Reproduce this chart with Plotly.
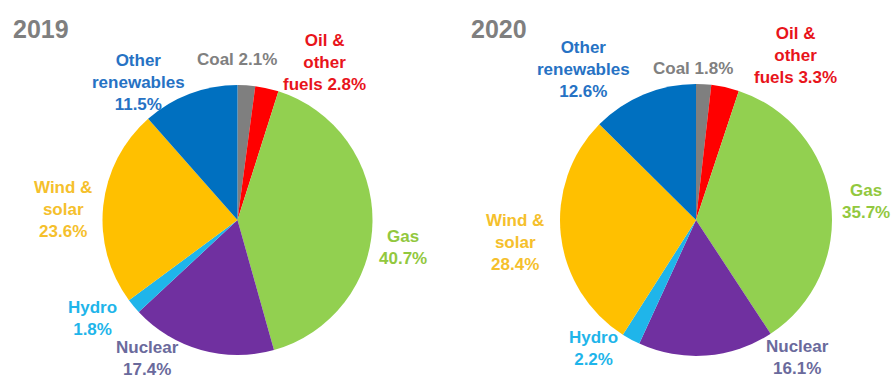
import plotly.graph_objects as go

# Electricity generation mix, share of total (%)
sources = ["Coal", "Oil & other fuels", "Gas", "Nuclear", "Hydro",
           "Wind & solar", "Other renewables"]
share_2019 = [2.1, 2.8, 40.7, 17.4, 1.8, 23.6, 11.5]
share_2020 = [1.8, 3.3, 35.7, 16.1, 2.2, 28.4, 12.6]

# How each source name is broken over lines in its label
label_stems = ["Coal ", "Oil &<br>other<br>fuels ", "Gas<br>", "Nuclear<br>",
               "Hydro<br>", "Wind &<br>solar<br>", "Other<br>renewables<br>"]

slice_colors = ["#7f7f7f", "#ff0000", "#92d050", "#7030a0", "#1fb5ea",
                "#ffc000", "#0070c0"]
label_colors = ["#808080", "#e8141b", "#92c83e", "#6a6a9c", "#1fb5ea",
                "#f5c02c", "#2672c4"]

FONT = "Arial, Liberation Sans, sans-serif"
W, H = 894, 380

# Label anchor points (pixels from the top-left) for each pie
label_pos_2019 = [(237, 59), (324, 62), (403, 247), (147, 358),
                  (92, 318), (63, 209), (138, 82)]
label_pos_2020 = [(693, 68), (795, 55), (866, 201), (797, 357),
                  (593, 348), (515, 242), (583, 69)]

pies = [
    dict(year="2019", values=share_2019, dom_x=[102, 373], dom_y=[85, 355],
         title_x=11, label_pos=label_pos_2019),
    dict(year="2020", values=share_2020, dom_x=[560, 832], dom_y=[84, 356],
         title_x=469, label_pos=label_pos_2020),
]

fig = go.Figure()
annotations = []
for p in pies:
    fig.add_trace(go.Pie(
        labels=sources,
        values=p["values"],
        sort=False,
        direction="clockwise",
        rotation=0,
        textinfo="none",
        hoverinfo="label+percent",
        marker=dict(colors=slice_colors, line=dict(width=0)),
        showlegend=False,
        domain=dict(x=[p["dom_x"][0] / W, p["dom_x"][1] / W],
                    y=[1 - p["dom_y"][1] / H, 1 - p["dom_y"][0] / H]),
    ))
    annotations.append(dict(
        text=f"<b>{p['year']}</b>", x=p["title_x"] / W, y=1 - 29 / H,
        xref="paper", yref="paper", xanchor="left", yanchor="middle",
        showarrow=False, font=dict(family=FONT, size=25, color="#7f7f7f"),
    ))
    for stem, val, col, (px, py) in zip(label_stems, p["values"],
                                         label_colors, p["label_pos"]):
        annotations.append(dict(
            text=f"<b>{stem}{val}%</b>", x=px / W, y=1 - py / H,
            xref="paper", yref="paper", xanchor="center", yanchor="middle",
            align="center", showarrow=False,
            font=dict(family=FONT, size=17, color=col),
        ))

fig.update_layout(
    width=W, height=H,
    margin=dict(l=0, r=0, t=0, b=0),
    paper_bgcolor="white", plot_bgcolor="white",
    annotations=annotations,
)

fig.write_html("out.html")
